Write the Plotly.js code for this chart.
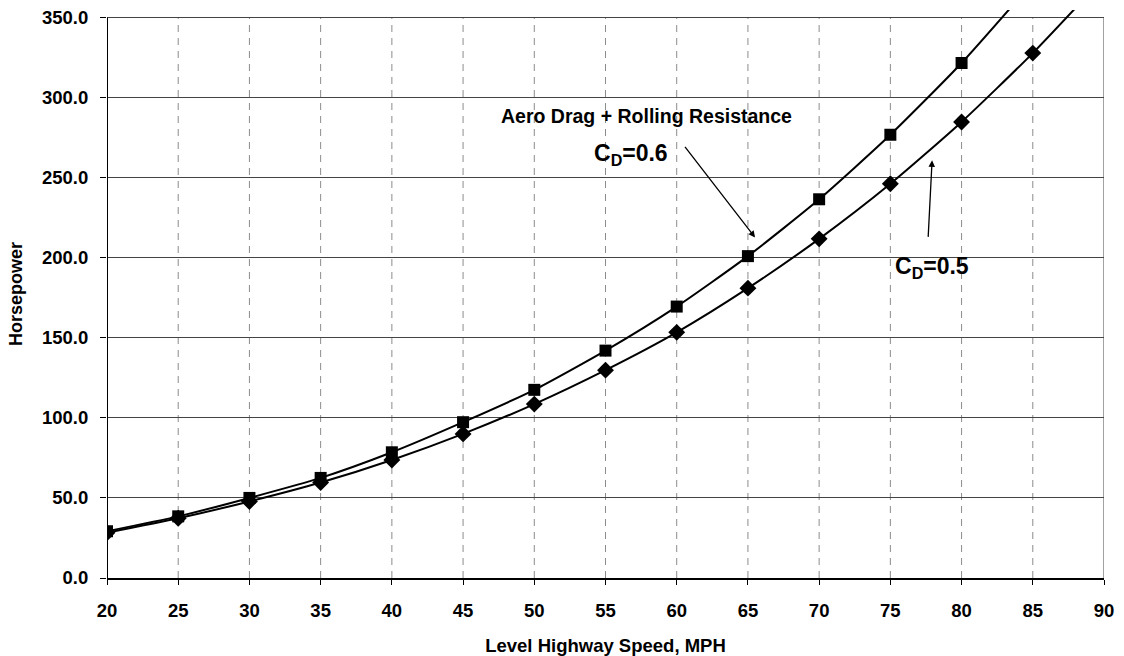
<!DOCTYPE html>
<html>
<head>
<meta charset="utf-8">
<script src="https://cdn.plot.ly/plotly-3.0.1.min.js"></script>
<style>html,body{margin:0;padding:0;background:#fff;}#chart{width:1124px;height:656px;}</style>
</head>
<body>
<div id="chart"></div>
<script>
// Data
const speedCd06 = [20, 25, 30, 35, 40, 45, 50, 55, 60, 65, 70, 75, 80, 85];
const hpCd06    = [29.2, 38.5, 50.0, 62.5, 78.5, 97.3, 117.5, 142.0, 169.5, 201.0, 236.5, 276.8, 321.6, 372.0];
const speedCd05 = [20, 25, 30, 35, 40, 45, 50, 55, 60, 65, 70, 75, 80, 85, 90];
const hpCd05    = [28.3, 37.3, 47.8, 59.6, 73.7, 90.0, 108.6, 129.8, 153.4, 181.0, 211.8, 246.2, 284.8, 327.8, 375.0];
const markerCountCd06 = 13; // markers shown 20..80
const markerCountCd05 = 14; // markers shown 20..85
const xTicks = [20, 25, 30, 35, 40, 45, 50, 55, 60, 65, 70, 75, 80, 85, 90];
const yTicks = [0, 50, 100, 150, 200, 250, 300, 350];
const yTop = 350;

const fam = 'Liberation Sans, Arial, sans-serif';
const bold = (size) => ({family: fam, size: size, color: '#000', weight: 700});

function lineTrace(xs, ys, symbol, size, nMarkers, name) {
  return [
    {x: xs, y: ys, type: 'scatter', mode: 'lines', name: name,
     line: {color: '#000', width: 2, shape: 'spline', smoothing: 0.6}, hoverinfo: 'skip', showlegend: false},
    {x: xs.slice(0, nMarkers), y: ys.slice(0, nMarkers), type: 'scatter', mode: 'markers', name: name,
     marker: {symbol: symbol, size: size, color: '#000'}, showlegend: false}
  ];
}

const traces = [
  ...lineTrace(speedCd05, hpCd05, 'diamond', 13, markerCountCd05, 'CD=0.5'),
  ...lineTrace(speedCd06, hpCd06, 'square', 12, markerCountCd06, 'CD=0.6')
];

const shapes = [];
// vertical dashed grid lines, stopping at the top of the frame
xTicks.slice(1, -1).forEach(v => shapes.push({type: 'line', xref: 'x', yref: 'y', x0: v, x1: v, y0: 0, y1: yTop,
  line: {color: '#8c8c8c', width: 1, dash: '7px,6px'}, layer: 'below'}));
// left axis line
shapes.push({type: 'line', xref: 'x', yref: 'y', x0: xTicks[0], x1: xTicks[0], y0: 0, y1: yTop, line: {color: '#000', width: 2}});
// right frame border
shapes.push({type: 'line', xref: 'x', yref: 'y', x0: xTicks[xTicks.length-1], x1: xTicks[xTicks.length-1], y0: 0, y1: yTop, line: {color: '#444', width: 1}});

const layout = {
  width: 1124, height: 656,
  margin: {l: 107, r: 20, t: 10, b: 78},
  paper_bgcolor: '#fff', plot_bgcolor: '#fff',
  font: bold(18),
  xaxis: {
    range: [20, 90], tickvals: xTicks, ticktext: xTicks.map(String),
    showgrid: false, zeroline: false,
    showline: true, linecolor: '#000', linewidth: 2,
    ticks: 'outside', ticklen: 5, tickcolor: '#000', tickwidth: 1,
    ticklabelstandoff: 10,
    tickfont: bold(18.5),
    title: {text: 'Level Highway Speed, MPH', font: bold(18.5), standoff: 19}
  },
  yaxis: {
    range: [0, 354.7], tickvals: yTicks, tickformat: '.1f',
    showgrid: true, gridcolor: '#444', gridwidth: 1, zeroline: false,
    showline: false,
    ticks: 'outside', ticklen: 6, tickcolor: '#000', tickwidth: 1,
    ticklabelstandoff: 8,
    tickfont: bold(18.5),
    title: {text: 'Horsepower', font: bold(18), standoff: 14}
  },
  shapes: shapes,
  annotations: [
    {x: 57.85, y: 288.2, xref: 'x', yref: 'y', text: 'Aero Drag + Rolling Resistance', showarrow: false,
     font: bold(19.5)},
    {x: 56.8, y: 264.5, xref: 'x', yref: 'y', text: 'C<sub>D</sub>=0.6', showarrow: false,
     font: bold(23)},
    {x: 77.9, y: 194, xref: 'x', yref: 'y', text: 'C<sub>D</sub>=0.5', showarrow: false,
     font: bold(23)},
    {x: 65.5, y: 212.7, ax: 60.5, ay: 270.1, xref: 'x', yref: 'y', axref: 'x', ayref: 'y', text: '',
     showarrow: true, arrowhead: 2, arrowsize: 1, arrowwidth: 1.3, arrowcolor: '#000'},
    {x: 77.93, y: 260.8, ax: 77.65, ay: 212.1, xref: 'x', yref: 'y', axref: 'x', ayref: 'y', text: '',
     showarrow: true, arrowhead: 2, arrowsize: 1, arrowwidth: 1.3, arrowcolor: '#000'}
  ]
};

Plotly.newPlot('chart', traces, layout, {displayModeBar: false, staticPlot: true});
</script>
</body>
</html>
